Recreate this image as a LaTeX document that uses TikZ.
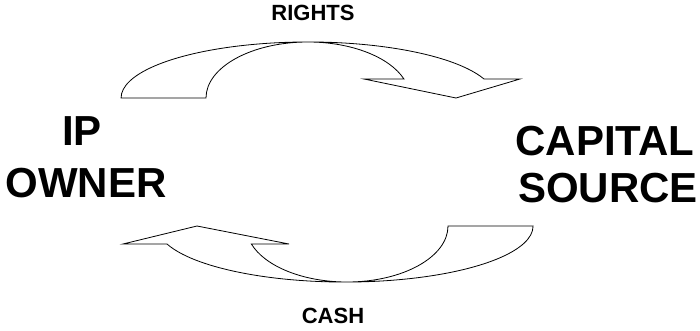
\documentclass[tikz,border=0pt]{standalone}
\usepackage{fontspec}
\setmainfont{Liberation Sans}
\usepackage{tikz}
\usetikzlibrary{positioning}

\begin{document}
\begin{tikzpicture}[
    x=1pt, y=1pt,
    party/.style={font=\fontsize{42}{42}\selectfont\bfseries, inner sep=0pt, anchor=base},
    flow/.style={font=\fontsize{22}{22}\selectfont\bfseries, inner sep=0pt, anchor=base},
    curvedarrow/.style={draw=black, line width=0.8pt, line join=miter},
]
\useasboundingbox (0,0) rectangle (700,330);

% parties
\node[party] (ip) at (82,185) {IP};
\node[party] (owner) at (86,133) {OWNER};
\node[party] (capital) at (605,175) {CAPITAL};
\node[party] (source) at (608,128) {SOURCE};

% flow labels
\node[flow] (rights) at (313,309) {RIGHTS};
\node[flow] (cash) at (333,7) {CASH};

% upper curved arrow (IP owner to capital source)
\draw[curvedarrow] (206,232)
    arc[start angle=180, end angle=19.8, x radius=102, y radius=56]
    -- (364,251) -- (456,232) -- (520,251) -- (484,251)
    arc[start angle=19.8, end angle=180, x radius=187, y radius=56]
    -- cycle;

% lower curved arrow (capital source to IP owner)
\draw[curvedarrow] (448,104)
    arc[start angle=0, end angle=-161.3, x radius=101, y radius=56]
    -- (289,86) -- (197,104) -- (123,86) -- (167,86)
    arc[start angle=-161.3, end angle=0, x radius=188, y radius=56]
    -- cycle;
\end{tikzpicture}
\end{document}
